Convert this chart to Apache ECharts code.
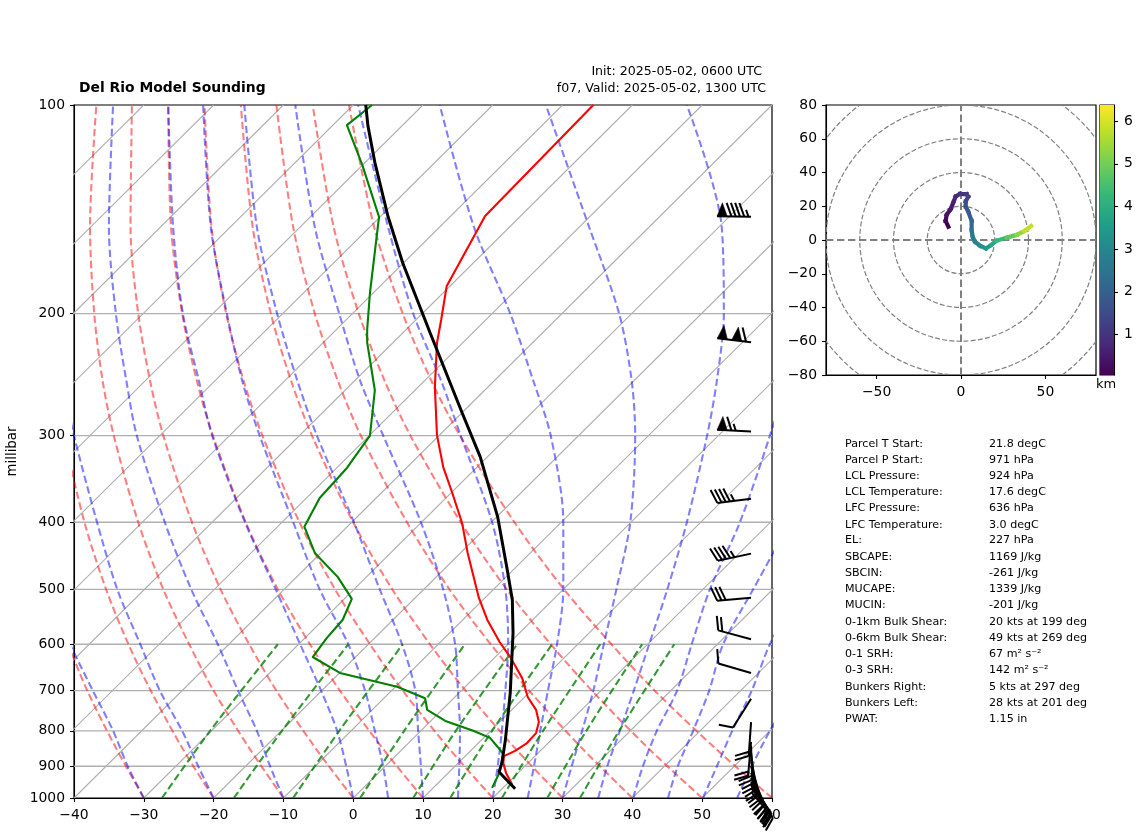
<!DOCTYPE html>
<html>
<head>
<meta charset="utf-8">
<title>Del Rio Model Sounding</title>
<script src="https://cdn.jsdelivr.net/npm/echarts@6/dist/echarts.min.js"></script>
<style>
html,body{margin:0;padding:0;background:#fff;}
#chart{width:1142px;height:836px;}
</style>
</head>
<body>
<div id="chart"></div>
<script>
// all x values below are read on the skewed temperature axis at the given pressure
var isobars = [200,300,400,500,600,700,800,900];
var pressureTicks = [100,200,300,400,500,600,700,800,900,1000];
var isothermStart = [-130,-120,-110,-100,-90,-80,-70,-60,-50,-40,-30,-20,-10,0,10,20,30,40,50];

// temperature trace
var tempP = [100,144.6,182.4,204.3,220.5,255.3,299.5,333,363,401,443,514,553,596,626,671,715,746,777,806,833,855,870,890,920,958];
var tempX = [34.4,18.9,13.4,12.6,12.0,11.7,12.0,12.9,14.2,15.6,16.4,18.0,19.2,21.0,22.5,24.2,25.0,26.2,26.6,26.2,24.9,23.2,21.6,21.5,21.9,22.8];
// dewpoint trace
var dewP = [100,106.9,122,145,186.7,211,220,258,300,334,369,406,443,480,516,553,588,626,660,691,718,746,774,800,819,844,864,917,967];
var dewX = [2.7,-0.9,1.3,3.7,2.4,2.0,2.0,3.1,2.4,-0.9,-4.8,-7.0,-5.5,-2.2,-0.2,-1.5,-3.8,-5.8,-1.9,6.3,10.3,10.6,13.2,17.2,19.6,20.7,21.5,21.0,19.9];
// parcel trace
var parcelP = [100,107,121,145,169,213,278,322,393,464,518,578,705,825,890,917,970];
var parcelX = [1.8,2.1,3.1,5.0,7.1,11.0,15.6,18.2,20.7,22.0,22.8,22.9,22.5,21.8,21.3,20.9,23.2];

// dry adiabats
var dryLevels = [1000,850,700,600,500,400,300,250,200,150,100];
var dryLines = [
	[-30,-33.9,-38.1,-40.8,-43.6,-46.2,-48.5,-49.3,-49.7,-49.3,-47.2],
	[-20,-24.4,-29.0,-32.2,-35.4,-38.5,-41.4,-42.6,-43.4,-43.5,-42.0],
	[-10,-14.8,-20.0,-23.5,-27.2,-30.8,-34.3,-35.9,-37.1,-37.7,-36.8],
	[0,-5.3,-11.0,-14.9,-19.0,-23.1,-27.2,-29.1,-30.8,-31.9,-31.7],
	[10,4.3,-1.9,-6.2,-10.8,-15.4,-20.1,-22.4,-24.5,-26.1,-26.5],
	[20,13.8,7.1,2.4,-2.6,-7.7,-13.0,-15.7,-18.2,-20.3,-21.3],
	[30,23.3,16.1,11.0,5.6,0.0,-5.9,-8.9,-11.8,-14.4,-16.1],
	[40,32.9,25.2,19.7,13.8,7.7,1.1,-2.2,-5.5,-8.6,-11.0],
	[50,42.4,34.2,28.3,22.0,15.4,8.2,4.5,0.8,-2.8,-5.8],
	[60,52.0,43.2,37.0,30.2,23.1,15.3,11.2,7.1,3.0,-0.6]
];

// moist adiabats, short rows leave the plot before the top
var moistLevels = [1000,900,800,700,600,500,400,300,250,200,150,100];
var moistLines = [
	[-30.0,-32.3,-34.4,-37.3,-40.6],
	[-20,-22.2,-24.5,-27.7,-30.5,-33.8,-36.7,-40,-41.7],
	[-10,-11.9,-13.8,-16.5,-19.4,-23.2,-27.0,-31.0,-32.5,-34.0,-35.0,-34.4],
	[0,-1.0,-2.3,-4.6,-7.6,-11.1,-15.5,-20.2,-22.1,-24.4,-25.8,-26.5],
	[5,4.3,3.1,1.7,-0.7,-4.8,-8.6,-13.4,-15.9,-18.1,-20.4,-21.5],
	[10,9.7,9.3,8.9,7.0,3.8,0.1,-5.2,-8.0,-10.9,-13.8,-15.6],
	[15,15.2,15.3,15,14.6,12.9,9.7,4.3,1.0,-2.0,-5.5,-8.3],
	[20,20.7,21.3,21.8,22.2,21.8,19.9,15.4,12.6,8.6,5.0,0.7],
	[25,25.9,26.8,27.9,29.2,30.1,30.1,28.3,25.8,22.5,17.3,12.4],
	[30,31.3,32.8,34.4,35.9,37.7,39.7,40.4,39.9,38.1,33.8,27.6],
	[35.1,36.4,38.2,40.2,42.4,45.0,47.8,50.7,52.1,53.1,52.8,47.8],
	[40.1,41.5,43.5,46.4,48.5,51.1,55.4,59.7,61.9,63.3],
	[45.1,46.5,48.7,51.0,53.0,57.3,62.6],
	[50.1,52.1,54.3,57.1,59.7,64.0],
	[55.0,57.1,59.7,63.3]
];

// mixing ratio lines
var mixLevels = [1000,800,600];
var mixLines = [
	[-27.4,-20.5,-10.8],
	[-17.1,-10.2,-0.7],
	[-8.6,-2.0,7.1],
	[1.0,7.3,16.0],
	[8.6,14.7,23.5],
	[13.9,19.9,28.5],
	[21.3,27.2,35.4],
	[27.8,33.4,41.4],
	[32.5,38.1,46.0]
];

// wind barbs: pressure, speed (kt), direction (deg)
var barbX = 57;
var barbP = [145,220,296,370,444,514,590,660,719,777,830,841,861,881,899,920,936,948,958,967,980];
var barbSpeed = [95,110,65,45,45,30,20,10,10,20,20,20,20,20,20,20,20,20,20,20,20];
var barbDir = [271,277,273,263,258,265,285,286,212,184,185,178,173,168,163,157,152,148,144,142,140];

// hodograph
var hodoU = [-7.5,-9.1,-8.5,-6.1,-4.5,-3.2,-0.6,3.4,4.3,2.8,2.8,4.3,6.3,6.3,6.9,8.3,11.3,14.8,17.8,21.1,27.1,33,37.5,41.5];
var hodoV = [7.9,11.3,14.9,18.4,22.4,25.7,27.3,27.1,25.7,22.8,19.8,16.8,11.3,5.9,2.0,-1.0,-3.4,-5,-3,-0.4,1.4,3,5.3,8.3];
var hodoH = [0.05,0.2,0.35,0.5,0.65,0.8,1.0,1.2,1.35,1.5,1.7,1.9,2.2,2.5,2.7,2.9,3.2,3.5,3.9,4.3,4.8,5.3,5.8,6.38];
var hodoRings = [20,40,60,80,100];
var hodoXTicks = [-50,0,50];
var hodoYTicks = [-80,-60,-40,-20,0,20,40,60,80];
var barTicks = [1,2,3,4,5,6];
var viridis = ['#440154','#482878','#3e4989','#31688e','#26828e','#1f9e89','#35b779','#6ece58','#b5de2b','#fde725'];

// parameter table
var statNames = ['Parcel T Start:','Parcel P Start:','LCL Pressure:','LCL Temperature:','LFC Pressure:','LFC Temperature:','EL:','SBCAPE:','SBCIN:','MUCAPE:','MUCIN:','0-1km Bulk Shear:','0-6km Bulk Shear:','0-1 SRH:','0-3 SRH:','Bunkers Right:','Bunkers Left:','PWAT:'];
var statValues = ['21.8 degC','971 hPa','924 hPa','17.6 degC','636 hPa','3.0 degC','227 hPa','1169 J/kg','-261 J/kg','1339 J/kg','-201 J/kg','20 kts at 199 deg','49 kts at 269 deg','67 m\u00b2 s\u207b\u00b2','142 m\u00b2 s\u207b\u00b2','5 kts at 297 deg','28 kts at 201 deg','1.15 in'];
var statRows = [444,460,476,492,508,525,540,557,573,589,605,622,638,654,670,687,703,719];

var FONT = '"DejaVu Sans"';

function minusLabel(v){
	return String(v).replace('-','\u2212');
}
function zip(xs,ps){
	var out = [];
	for(var i = 0; i < xs.length; i++){
		out.push([xs[i],ps[i]]);
	}
	return out;
}
function guide(data,color,opacity,width,dash,smooth){
	return {
		type:'line',xAxisIndex:0,yAxisIndex:0,data:data,showSymbol:false,symbol:'none',silent:true,
		smooth:smooth,animation:false,
		lineStyle:{color:color,opacity:opacity,width:width,type:dash}
	};
}

// barb with the staff tip on the pressure level
function renderBarb(params,api){
	var pos = api.coord([barbX,api.value(0)]);
	var speed = Math.round(api.value(1) / 5) * 5;
	var dir = api.value(2) * Math.PI / 180;
	var L = 34, H = 0.4 * L, W = 0.3 * L, S = 0.125 * L;
	var ux = Math.sin(dir), uy = -Math.cos(dir);
	var nx = -uy, ny = ux;
	var fx = pos[0] + ux * L, fy = pos[1] + uy * L;
	function pt(t,h){
		return [fx - ux * t + nx * h,fy - uy * t + ny * h];
	}
	var style = {stroke:'#000',lineWidth:2,fill:null};
	var kids = [{type:'line',shape:{x1:pos[0],y1:pos[1],x2:fx,y2:fy},style:style}];
	var t = 0;
	var flags = Math.floor(speed / 50);
	speed -= flags * 50;
	var full = Math.floor(speed / 10);
	speed -= full * 10;
	var half = speed >= 5 ? 1 : 0;
	var i;
	for(i = 0; i < flags; i++){
		kids.push({type:'polygon',shape:{points:[pt(t,0),pt(t + W / 2,H),pt(t + W,0)]},style:{fill:'#000',stroke:'#000',lineWidth:0.5}});
		t += W + S;
	}
	for(i = 0; i < full; i++){
		kids.push({type:'polyline',shape:{points:[pt(t,0),pt(t - W / 2,H)]},style:style});
		t += S;
	}
	if(half){
		if(flags + full == 0){
			t += S;
		}
		kids.push({type:'polyline',shape:{points:[pt(t,0),pt(t - W / 4,H / 2)]},style:style});
	}
	return {type:'group',children:kids};
}

function renderRing(params,api){
	var c = api.coord([0,0]);
	var r = api.size([api.value(0),0])[0];
	return {type:'circle',shape:{cx:c[0],cy:c[1],r:r},style:{fill:null,stroke:'#808080',lineWidth:1.2,lineDash:[5,2.2]}};
}

function renderHodo(params,api){
	var a = api.coord([api.value(0),api.value(1)]);
	var b = api.coord([api.value(2),api.value(3)]);
	var t = (api.value(4) - 0.05) / (6.38 - 0.05);
	return {type:'line',shape:{x1:a[0],y1:a[1],x2:b[0],y2:b[1]},style:{stroke:echarts.color.lerp(t,viridis),lineWidth:4.2,lineCap:'square'}};
}

function renderBar(params,api){
	var a = api.coord([0,api.value(0)]);
	var b = api.coord([1,api.value(1)]);
	var stops = viridis.map(function(c,i){return {offset:i / (viridis.length - 1),color:c};});
	return {type:'rect',shape:{x:a[0],y:b[1],width:b[0] - a[0],height:a[1] - b[1]},
		style:{fill:new echarts.graphic.LinearGradient(0,1,0,0,stops)}};
}

var series = [];
isothermStart.forEach(function(t){
	series.push(guide([[t,1000],[t + 100,100]],'#b0b0b0',1,1.1,'solid',false));
});
isobars.forEach(function(p){
	series.push(guide([[-40,p],[60,p]],'#b0b0b0',1,1.4,'solid',false));
});
var DASH = [7.4,3.6];
dryLines.forEach(function(row){
	series.push(guide(zip(row,dryLevels),'#ff0000',0.5,2.1,DASH,0.3));
});
moistLines.forEach(function(row){
	series.push(guide(zip(row,moistLevels),'#0000ff',0.5,2.1,DASH,0.3));
});
mixLines.forEach(function(row){
	series.push(guide(zip(row,mixLevels),'#008000',0.8,2.1,DASH,0.3));
});
series.push(guide(zip(tempX,tempP),'#ff0000',1,2.1,'solid',false));
series.push(guide(zip(dewX,dewP),'#008000',1,2.1,'solid',false));
series.push(guide(zip(parcelX,parcelP),'#000000',1,3,'solid',false));

series.push({
	type:'custom',xAxisIndex:0,yAxisIndex:0,silent:true,animation:false,z:20,clip:false,
	renderItem:renderBarb,
	data:barbP.map(function(p,i){return [p,barbSpeed[i],barbDir[i]];})
});

series.push({
	type:'custom',xAxisIndex:1,yAxisIndex:1,silent:true,animation:false,clip:true,
	renderItem:renderRing,data:hodoRings.map(function(r){return [r];})
});
series.push({type:'line',xAxisIndex:1,yAxisIndex:1,data:[[-80,0],[80,0]],symbol:'none',silent:true,animation:false,lineStyle:{color:'#808080',width:2,type:DASH}});
series.push({type:'line',xAxisIndex:1,yAxisIndex:1,data:[[0,-80],[0,80]],symbol:'none',silent:true,animation:false,lineStyle:{color:'#808080',width:2,type:DASH}});
var hodoSegs = [];
for(var s = 0; s < hodoU.length - 1; s++){
	hodoSegs.push([hodoU[s],hodoV[s],hodoU[s + 1],hodoV[s + 1],hodoH[s]]);
}
series.push({
	type:'custom',xAxisIndex:1,yAxisIndex:1,silent:true,animation:false,z:5,
	renderItem:renderHodo,data:hodoSegs
});
series.push({
	type:'custom',xAxisIndex:2,yAxisIndex:2,silent:true,animation:false,
	renderItem:renderBar,data:[[0.05,6.38]]
});

var graphics = [
	{type:'text',left:79,top:81,silent:true,style:{text:'Del Rio Model Sounding',font:'bold 13.9px ' + FONT,fill:'#000'}},
	{type:'text',right:380,top:65,silent:true,style:{text:'Init: 2025-05-02, 0600 UTC',font:'12.6px ' + FONT,fill:'#000'}},
	{type:'text',right:376,top:82,silent:true,style:{text:'f07, Valid: 2025-05-02, 1300 UTC',font:'12.6px ' + FONT,fill:'#000'}},
	{type:'text',left:1096,top:378,silent:true,style:{text:'km',font:'13px ' + FONT,fill:'#000'}}
];
statNames.forEach(function(name,i){
	graphics.push({type:'text',left:845,top:statRows[i] - 5,silent:true,style:{text:name,font:'11.1px ' + FONT,fill:'#000'}});
	graphics.push({type:'text',left:989,top:statRows[i] - 5,silent:true,style:{text:statValues[i],font:'11.1px ' + FONT,fill:'#000'}});
});

var tickFont = {fontFamily:FONT,fontSize:13.9,color:'#000'};
var axisLine = {show:true,onZero:false,lineStyle:{color:'#000',width:1.1}};
var axisTick = {show:true,length:4,lineStyle:{color:'#000',width:1.1}};

var option = {
	backgroundColor:'#fff',
	animation:false,
	grid:[
		{left:74,top:105,width:698,height:693,show:true,borderColor:'#000',borderWidth:1.2,backgroundColor:'transparent',outerBoundsMode:'none'},
		{left:826,top:105,width:270,height:270,show:true,borderColor:'#000',borderWidth:1.2,backgroundColor:'transparent',outerBoundsMode:'none'},
		{left:1100,top:105,width:14,height:270,show:true,borderColor:'#000',borderWidth:1.2,backgroundColor:'transparent',outerBoundsMode:'none'}
	],
	xAxis:[
		{type:'value',gridIndex:0,min:-40,max:60,interval:10,splitLine:{show:false},axisLine:axisLine,axisTick:axisTick,
			axisLabel:Object.assign({margin:10,showMinLabel:true,showMaxLabel:true,hideOverlap:false,formatter:minusLabel},tickFont)},
		{type:'value',gridIndex:1,min:-80,max:80,splitLine:{show:false},axisLine:axisLine,
			axisTick:Object.assign({customValues:hodoXTicks},axisTick),
			axisLabel:Object.assign({margin:10,customValues:hodoXTicks,formatter:minusLabel},tickFont)},
		{type:'value',gridIndex:2,min:0,max:1,show:false}
	],
	yAxis:[
		{type:'log',gridIndex:0,logBase:10,min:100,max:1000,inverse:true,name:'millibar',nameLocation:'middle',nameGap:48,
			nameTextStyle:{fontFamily:FONT,fontSize:13.3,color:'#000'},
			splitLine:{show:false},minorTick:{show:false},minorSplitLine:{show:false},axisLine:axisLine,
			axisTick:Object.assign({customValues:pressureTicks},axisTick),
			axisLabel:Object.assign({margin:9,customValues:pressureTicks,showMinLabel:true,showMaxLabel:true,hideOverlap:false,
				formatter:function(v){return String(Math.round(v));}},tickFont)},
		{type:'value',gridIndex:1,min:-80,max:80,splitLine:{show:false},axisLine:axisLine,
			axisTick:Object.assign({customValues:hodoYTicks},axisTick),
			axisLabel:Object.assign({margin:9,customValues:hodoYTicks,showMinLabel:true,showMaxLabel:true,hideOverlap:false,formatter:minusLabel},tickFont)},
		{type:'value',gridIndex:2,position:'right',min:0.05,max:6.38,splitLine:{show:false},axisLine:axisLine,
			axisTick:Object.assign({customValues:barTicks},axisTick),
			axisLabel:Object.assign({margin:10,customValues:barTicks},tickFont)}
	],
	graphic:graphics,
	series:series
};

var myChart = echarts.init(document.getElementById('chart'),null,{renderer:'canvas',width:1142,height:836});
myChart.setOption(option);
</script>
</body>
</html>
